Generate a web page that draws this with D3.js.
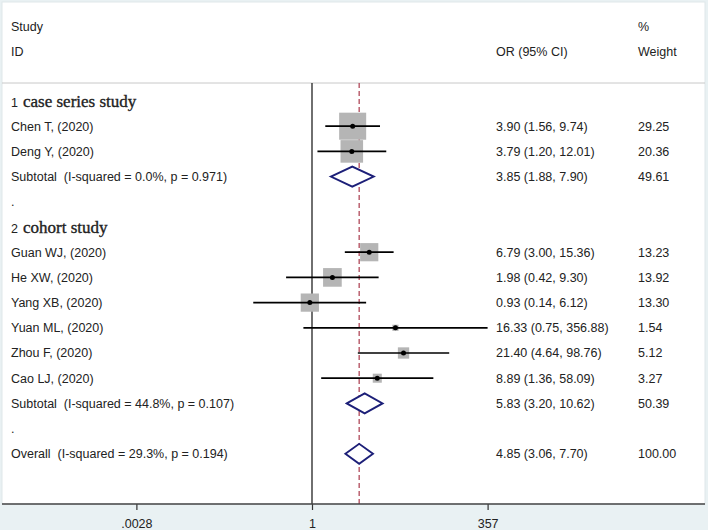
<!DOCTYPE html>
<html><head><meta charset="utf-8">
<script src="https://cdn.jsdelivr.net/npm/d3@7"></script>
<style>
html,body{margin:0;padding:0;background:#e9f1f3;}
text{font-family:"Liberation Sans",Arial,sans-serif;white-space:pre;}
</style></head>
<body><svg id="c" width="708" height="530"></svg>
<script>
// ---- data ----
const rowLabels = ["1 case series study","Chen T, (2020)","Deng Y, (2020)","Subtotal  (I-squared = 0.0%, p = 0.971)",".",
  "2 cohort study","Guan WJ, (2020)","He XW, (2020)","Yang XB, (2020)","Yuan ML, (2020)","Zhou F, (2020)","Cao LJ, (2020)",
  "Subtotal  (I-squared = 44.8%, p = 0.107)",".","Overall  (I-squared = 29.3%, p = 0.194)"];
const rowTypes = ["group","study","study","sub","blank","group","study","study","study","study","study","study","sub","blank","sub"];
const orValues = [null,3.90,3.79,3.85,null,null,6.79,1.98,0.93,16.33,21.40,8.89,5.83,null,4.85];
const ciLower  = [null,1.56,1.20,1.88,null,null,3.00,0.42,0.14,0.75,4.64,1.36,3.20,null,3.06];
const ciUpper  = [null,9.74,12.01,7.90,null,null,15.36,9.30,6.12,356.88,98.76,58.09,10.62,null,7.70];
const weights  = [null,29.25,20.36,49.61,null,null,13.23,13.92,13.30,1.54,5.12,3.27,50.39,null,100.00];
const ciText   = ["","3.90 (1.56, 9.74)","3.79 (1.20, 12.01)","3.85 (1.88, 7.90)","","","6.79 (3.00, 15.36)","1.98 (0.42, 9.30)",
  "0.93 (0.14, 6.12)","16.33 (0.75, 356.88)","21.40 (4.64, 98.76)","8.89 (1.36, 58.09)","5.83 (3.20, 10.62)","","4.85 (3.06, 7.70)"];
const weightText = ["","29.25","20.36","49.61","","","13.23","13.92","13.30","1.54","5.12","3.27","50.39","","100.00"];
const tickValues = [0.0028,1,357];
const tickLabels = [".0028","1","357"];
const overallOR = 4.85;

// ---- drawing ----
const svg = d3.select("#c");
const plotTop = 83, axisY = 504;
const FS = 12.5;
const x = d3.scaleLog().domain([1/357,357]).range([136.4,487.6]);
const y = d3.scaleLinear().domain([0,14]).range([101,453.8]);

svg.append("rect").attr("x",2).attr("y",2).attr("width",703).attr("height",axisY-2)
  .attr("fill","#fff").attr("stroke","#dfe7ea").attr("stroke-width",1);
svg.append("line").attr("x1",2).attr("x2",705).attr("y1",plotTop).attr("y2",plotTop)
  .attr("stroke","#c8c8c8").attr("stroke-width",1);

const txt = "#222";
// headers
const hdr = [["Study",11,27],["ID",11,52],["OR (95% CI)",496,52],["%",638,27],["Weight",638,52]];
svg.selectAll("text.hdr").data(hdr).join("text").attr("class","hdr")
  .attr("x",d=>d[1]).attr("y",d=>d[2]).attr("dy","0.35em")
  .attr("font-size",FS).attr("fill",txt).text(d=>d[0]);

// reference lines
svg.append("line").attr("x1",x(1)).attr("x2",x(1)).attr("y1",plotTop).attr("y2",axisY)
  .attr("stroke","#222").attr("stroke-width",1.3);
svg.append("line").attr("x1",x(overallOR)).attr("x2",x(overallOR)).attr("y1",plotTop).attr("y2",axisY)
  .attr("stroke","#b04a5a").attr("stroke-width",1.3).attr("stroke-dasharray","5,3");

const rows = rowLabels.map((l,i)=>({l,i,t:rowTypes[i],or:orValues[i],lo:ciLower[i],hi:ciUpper[i],w:weights[i],ci:ciText[i],wt:weightText[i]}));

// labels
rows.forEach(r=>{
  const yy = y(r.i);
  if(r.t==="group"){
    const sp = r.l.indexOf(" ");
    const t = svg.append("text").attr("x",11).attr("y",yy).attr("dy","0.35em").attr("fill",txt);
    t.append("tspan").attr("font-size",FS).text(r.l.slice(0,sp));
    t.append("tspan").attr("x",23).attr("font-size",17).attr("font-family","'Liberation Serif','Times New Roman',serif")
      .attr("stroke",txt).attr("stroke-width",0.35).text(r.l.slice(sp+1));
  } else {
    svg.append("text").attr("x",11).attr("y",yy).attr("dy","0.35em").attr("font-size",FS).attr("fill",txt).text(r.l);
  }
  if(r.ci){
    svg.append("text").attr("x",496).attr("y",yy).attr("dy","0.35em").attr("font-size",FS).attr("fill",txt).text(r.ci);
    svg.append("text").attr("x",638).attr("y",yy).attr("dy","0.35em").attr("font-size",FS).attr("fill",txt).text(r.wt);
  }
});

const studies = rows.filter(r=>r.t==="study");
// boxes
svg.selectAll("rect.box").data(studies).join("rect").attr("class","box")
  .attr("x",d=>x(d.or)-2.5*Math.sqrt(d.w)).attr("y",d=>y(d.i)-2.5*Math.sqrt(d.w))
  .attr("width",d=>5*Math.sqrt(d.w)).attr("height",d=>5*Math.sqrt(d.w))
  .attr("fill","#b5b5b5");
// CI lines
svg.selectAll("line.ci").data(studies).join("line").attr("class","ci")
  .attr("x1",d=>x(d.lo)).attr("x2",d=>x(d.hi)).attr("y1",d=>y(d.i)).attr("y2",d=>y(d.i))
  .attr("stroke","#000").attr("stroke-width",1.7);
svg.selectAll("circle.pt").data(studies).join("circle").attr("class","pt")
  .attr("cx",d=>x(d.or)).attr("cy",d=>y(d.i)).attr("r",2.5).attr("fill","#000");

// diamonds
const subs = rows.filter(r=>r.t==="sub");
svg.selectAll("path.dia").data(subs).join("path").attr("class","dia")
  .attr("d",d=>{const c=y(d.i);return `M${x(d.lo)},${c}L${x(d.or)},${c-10}L${x(d.hi)},${c}L${x(d.or)},${c+10}Z`;})
  .attr("fill","#fff").attr("stroke","#1c1f78").attr("stroke-width",1.9);

// axis
const ax = svg.append("g").attr("transform",`translate(0,${axisY})`)
  .call(d3.axisBottom(x).tickValues(tickValues).tickFormat((d,i)=>tickLabels[i]).tickSize(6).tickPadding(9).tickSizeOuter(0));
ax.select(".domain").remove();
ax.append("line").attr("x1",2).attr("x2",705).attr("stroke","#444").attr("stroke-width",1.4);
ax.selectAll(".tick line").attr("stroke","#333").attr("stroke-width",1.2);
ax.selectAll(".tick text").attr("font-size",FS).attr("fill",txt).attr("font-family","'Liberation Sans',Arial,sans-serif");
</script></body></html>
